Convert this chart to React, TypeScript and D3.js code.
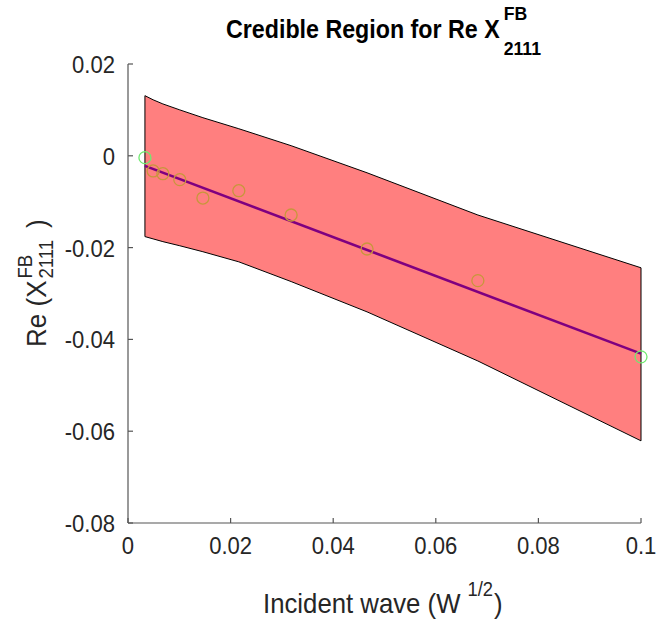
import React, { useEffect, useRef } from "react";
import * as d3 from "d3";

const xVals = [0.0033, 0.0049, 0.0068, 0.0101, 0.0146, 0.0216, 0.0318, 0.0466, 0.0682, 0.1];
const observed = [-0.0004, -0.0033, -0.0039, -0.0052, -0.0092, -0.0076, -0.0129, -0.0203, -0.0272, -0.0438];
const upperBound = [0.0131, 0.0122, 0.0113, 0.01, 0.0083, 0.0059, 0.0022, -0.0037, -0.0129, -0.0244];
const lowerBound = [-0.0176, -0.0181, -0.0187, -0.0196, -0.0209, -0.0231, -0.0274, -0.034, -0.0447, -0.0621];
const fitX = [0.0033, 0.1];
const fitY = [-0.0022, -0.0431];
const highlighted = [true, false, false, false, false, false, false, false, false, true];
const xTicks = [0, 0.02, 0.04, 0.06, 0.08, 0.1];
const xTickLabels = ["0", "0.02", "0.04", "0.06", "0.08", "0.1"];
const yTicks = [0.02, 0, -0.02, -0.04, -0.06, -0.08];
const yTickLabels = ["0.02", "0", "-0.02", "-0.04", "-0.06", "-0.08"];

const W = 656;
const H = 626;
const FONT = "'Liberation Sans', Arial, sans-serif";

export default function App() {
  const ref = useRef<SVGSVGElement>(null);
  useEffect(() => {
    const svg = d3.select(ref.current);
    svg.selectAll("*").remove();
    const x = d3.scaleLinear().domain([0, 0.1]).range([128, 641]);
    const y = d3.scaleLinear().domain([-0.08, 0.02]).range([523, 64]);

    // text helper with horizontal compression
    const txt = (parent: any, tx: number, ty: number, s: string, size: number, sx: number, anchor = "start", weight = "normal", fill = "#262626") => {
      const t = parent.append("text")
        .attr("transform", `translate(${tx},${ty}) scale(${sx},1)`)
        .attr("text-anchor", anchor)
        .attr("font-family", FONT)
        .attr("font-size", size)
        .attr("font-weight", weight)
        .attr("fill", fill)
        .text(s);
      return (t.node() as SVGTextElement).getComputedTextLength() * sx;
    };

    // band
    const band = xVals.map((v, i) => [x(v), y(upperBound[i])] as [number, number])
      .concat(xVals.map((v, i) => [x(v), y(lowerBound[i])] as [number, number]).reverse());
    svg.append("path")
      .attr("d", d3.line()(band) + "Z")
      .attr("fill", "#ff7f7f")
      .attr("stroke", "#000")
      .attr("stroke-width", 1);

    // fit line
    const line = d3.line<number>().x((d, i) => x(fitX[i])).y((d) => y(d));
    svg.append("path")
      .attr("d", line(fitY))
      .attr("fill", "none")
      .attr("stroke", "#7f0080")
      .attr("stroke-width", 2.6);

    // points
    svg.selectAll("circle.pt")
      .data(observed)
      .enter()
      .append("circle")
      .attr("cx", (d, i) => x(xVals[i]))
      .attr("cy", (d) => y(d))
      .attr("r", 6)
      .attr("fill", "none")
      .attr("stroke", (d, i) => (highlighted[i] ? "#6fea6f" : "#c8963c"))
      .attr("stroke-width", 1.3);

    // axes
    const axisColor = "#555";
    svg.append("line").attr("x1", x(0)).attr("x2", x(0)).attr("y1", y(0.02)).attr("y2", y(-0.08))
      .attr("stroke", axisColor).attr("stroke-width", 1.2);
    svg.append("line").attr("x1", x(0)).attr("x2", x(0.1)).attr("y1", y(-0.08)).attr("y2", y(-0.08))
      .attr("stroke", axisColor).attr("stroke-width", 1.2);
    xTicks.forEach((t, i) => {
      svg.append("line").attr("x1", x(t)).attr("x2", x(t)).attr("y1", y(-0.08)).attr("y2", y(-0.08) - 5)
        .attr("stroke", axisColor).attr("stroke-width", 1.2);
      txt(svg, x(t), y(-0.08) + 31, xTickLabels[i], 24, 0.92, "middle");
    });
    yTicks.forEach((t, i) => {
      svg.append("line").attr("x1", x(0)).attr("x2", x(0) + 5).attr("y1", y(t)).attr("y2", y(t))
        .attr("stroke", axisColor).attr("stroke-width", 1.2);
      txt(svg, x(0) - 13, y(t) + 9, yTickLabels[i], 24, 0.92, "end");
    });

    // title
    const tw = txt(svg, 226, 38, "Credible Region for Re X", 25, 0.93, "start", "bold", "#000");
    txt(svg, 226 + tw + 4, 20, "FB", 19, 0.93, "start", "bold", "#000");
    txt(svg, 226 + tw + 4, 55, "2111", 19, 0.93, "start", "bold", "#000");

    // x label
    const xlw = txt(svg, 263, 613, "Incident wave (W", 28, 0.92);
    const supw = txt(svg, 263 + xlw + 7, 596, "1/2", 20, 0.92);
    txt(svg, 263 + xlw + 7 + supw + 1, 613, ")", 28, 0.92);

    // y label
    const g = svg.append("g").attr("transform", "translate(46,347) rotate(-90)");
    const ylw = txt(g, 0, 0, "Re (X", 28, 0.93);
    txt(g, ylw + 2, -14, "FB", 20, 0.93);
    const subw = txt(g, ylw + 2, 7, "2111", 20, 0.93);
    txt(g, ylw + 2 + subw + 12, 0, ")", 28, 0.93);
  }, []);

  return (
    <svg ref={ref} width={W} height={H} style={{ position: "absolute", left: 0, top: 0, background: "#fff" }} />
  );
}
